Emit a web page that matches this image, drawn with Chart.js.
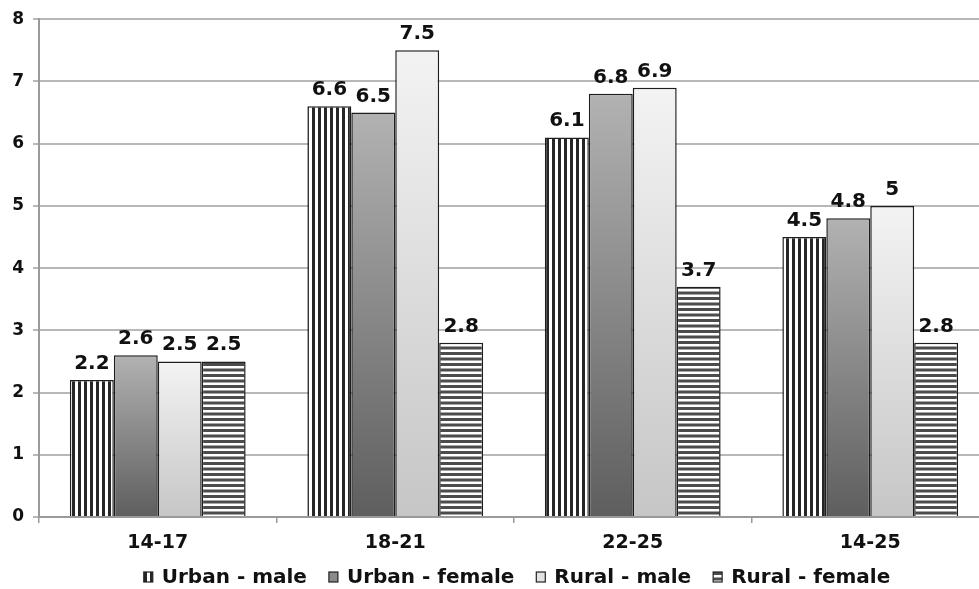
<!DOCTYPE html>
<html>
<head>
<meta charset="utf-8">
<script src="https://cdn.jsdelivr.net/npm/chart.js@4/dist/chart.umd.min.js"></script>
<style>
    html, body { margin: 0; padding: 0; background: #fff; overflow: hidden; }
    #wrap { width: 990px; height: 589px; }
</style>
</head>
<body>
<div id="wrap"><canvas id="myChart"></canvas></div>
<script>
const ageGroups = ["14-17", "18-21", "22-25", "14-25"]
const seriesNames = ["Urban - male", "Urban - female", "Rural - male", "Rural - female"]
const urbanMale = [2.2, 6.6, 6.1, 4.5]
const urbanFemale = [2.6, 6.5, 6.8, 4.8]
const ruralMale = [2.5, 7.5, 6.9, 5]
const ruralFemale = [2.5, 2.8, 3.7, 2.8]
const yTicks = [0, 1, 2, 3, 4, 5, 6, 7, 8]

const FONT = "'DejaVu Sans', sans-serif"

function stripes(vertical) {
    let c = document.createElement('canvas')
    let n = vertical ? 6 : 11
    c.width = vertical ? n : 4
    c.height = vertical ? 4 : n
    let g = c.getContext('2d')
    g.fillStyle = '#fff'
    g.fillRect(0, 0, c.width, c.height)
    if (vertical) {
        g.fillStyle = '#262626'
        g.fillRect(0, 0, 3, 4)
    } else {
        g.fillStyle = '#4c4c4c'
        g.fillRect(0, 0, 4, 3)
        g.fillRect(0, 5.5, 4, 3)
    }
    return g.createPattern(c, 'repeat')
}

const vStripes = stripes(true)
const hStripes = stripes(false)

function barGradient(top, bottom, flat) {
    return function (ctx) {
        if (ctx.type !== 'data') return flat
        let chart = ctx.chart
        if (!chart.chartArea) return flat
        let y0 = chart.scales.y.getPixelForValue(0)
        let y1 = chart.scales.y.getPixelForValue(ctx.raw)
        let g = chart.ctx.createLinearGradient(0, y1, 0, y0)
        g.addColorStop(0, top)
        g.addColorStop(1, bottom)
        return g
    }
}

const fills = [vStripes, barGradient('#b2b2b2', '#5e5e5e', '#8a8a8a'), barGradient('#f3f3f3', '#c6c6c6', '#dedede'), hStripes]
const legendFills = [vStripes, '#8a8a8a', '#e2e2e2', hStripes]

// values above each bar
const valueLabels = {
    id: 'valueLabels',
    afterDatasetsDraw(chart) {
        let c = chart.ctx
        c.save()
        c.font = 'bold 20px ' + FONT
        c.fillStyle = '#111'
        c.textAlign = 'center'
        c.textBaseline = 'alphabetic'
        chart.data.datasets.forEach((ds, i) => {
            chart.getDatasetMeta(i).data.forEach((bar, j) => {
                c.fillText(String(ds.data[j]), bar.x, bar.y - 11)
            })
        })
        c.restore()
    }
}

// legend drawn by hand so it sits where the original does
const bottomLegend = {
    id: 'bottomLegend',
    afterDraw(chart) {
        let c = chart.ctx
        c.save()
        c.font = 'bold 20px ' + FONT
        c.textBaseline = 'middle'
        let box = 9, textOffset = 18, itemGap = 22
        let widths = seriesNames.map((n) => textOffset + c.measureText(n).width)
        let total = widths.reduce((a, b) => a + b, 0) + itemGap * (widths.length - 1)
        let x = 517 - total / 2
        let y = 577
        seriesNames.forEach((name, i) => {
            c.fillStyle = legendFills[i]
            c.fillRect(x, y - 5, box, box + 1)
            c.strokeStyle = '#222'
            c.lineWidth = 1.2
            c.strokeRect(x, y - 5, box, box + 1)
            c.fillStyle = '#111'
            c.fillText(name, x + textOffset, y + 1)
            x += widths[i] + itemGap
        })
        c.restore()
    }
}

const datasets = [urbanMale, urbanFemale, ruralMale, ruralFemale].map((vals, i) => ({
    label: seriesNames[i],
    data: vals,
    backgroundColor: fills[i],
    borderColor: '#1e1e1e',
    borderWidth: 1.5,
    borderSkipped: 'bottom',
    barPercentage: 1,
    categoryPercentage: 0.74
}))

const ctx = document.getElementById('myChart')
let myChart = new Chart(ctx, {
    type: 'bar',
    data: {
        labels: ageGroups,
        datasets: datasets
    },
    options: {
        responsive: true,
        maintainAspectRatio: false,
        animation: false,
        layout: {
            padding: { top: 19, right: 1, left: 0, bottom: 0 }
        },
        plugins: {
            legend: { display: false },
            tooltip: { enabled: false }
        },
        scales: {
            x: {
                grid: {
                    display: true,
                    drawOnChartArea: false,
                    color: '#9a9a9a',
                    lineWidth: 1.5,
                    tickLength: 6
                },
                border: { color: '#9a9a9a', width: 2 },
                ticks: {
                    color: '#111',
                    padding: 9,
                    font: { family: FONT, size: 19, weight: 'bold' }
                },
                afterFit(scale) {
                    scale.height = 72
                }
            },
            y: {
                min: 0,
                max: 8,
                afterBuildTicks(scale) {
                    scale.ticks = yTicks.map((v) => ({ value: v }))
                },
                grid: {
                    color: '#b8b8b8',
                    lineWidth: 2,
                    tickLength: 6
                },
                border: { color: '#9a9a9a', width: 2 },
                ticks: {
                    color: '#111',
                    padding: 9,
                    font: { family: FONT, size: 17, weight: 'bold' }
                },
                afterFit(scale) {
                    scale.width = 39
                }
            }
        }
    },
    plugins: [valueLabels, bottomLegend]
})
</script>
</body>
</html>
